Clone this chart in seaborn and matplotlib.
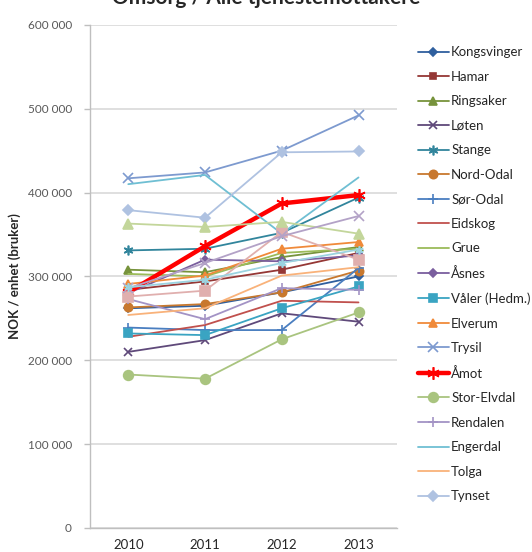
import matplotlib
matplotlib.use("Agg")
import matplotlib.pyplot as plt
import seaborn as sns
import pandas as pd
from matplotlib.ticker import FuncFormatter

years = [2010, 2011, 2012, 2013]

# NOK per recipient, one list per municipality
kongsvinger = [262000, 265000, 281000, 300000]
hamar = [284000, 294000, 308000, 328000]
ringsaker = [308000, 305000, 323000, 335000]
loten = [210000, 224000, 256000, 246000]
stange = [331000, 333000, 352000, 394000]
nord_odal = [263000, 267000, 281000, 307000]
sor_odal = [239000, 236000, 236000, 310000]
eidskog = [228000, 242000, 271000, 269000]
grue = [303000, 300000, 328000, 333000]
asnes = [280000, 320000, 318000, 325000]
valer = [232000, 230000, 262000, 288000]
elverum = [291000, 301000, 333000, 341000]
trysil = [417000, 424000, 450000, 492000]
amot = [281000, 336000, 387000, 397000]
stor_elvdal = [183000, 178000, 225000, 257000]
rendalen = [273000, 249000, 286000, 284000]
engerdal = [410000, 421000, 351000, 418000]
tolga = [254000, 262000, 301000, 311000]
tynset = [379000, 370000, 448000, 449000]
alvdal = [276000, 283000, 353000, 320000]
folldal = [363000, 359000, 365000, 351000]
os_kommune = [286000, 316000, 348000, 372000]
hedmark = [287000, 296000, 316000, 332000]

names = ["Kongsvinger", "Hamar", "Ringsaker", "Løten", "Stange", "Nord-Odal",
         "Sør-Odal", "Eidskog", "Grue", "Åsnes", "Våler (Hedm.)", "Elverum",
         "Trysil", "Åmot", "Stor-Elvdal", "Rendalen", "Engerdal", "Tolga",
         "Tynset", "Alvdal", "Folldal", "Os", "Hedmark"]
series = [kongsvinger, hamar, ringsaker, loten, stange, nord_odal, sor_odal,
          eidskog, grue, asnes, valer, elverum, trysil, amot, stor_elvdal,
          rendalen, engerdal, tolga, tynset, alvdal, folldal, os_kommune, hedmark]
legend_count = 19

star = (6, 2, 0)
styles = {
    "Kongsvinger": ("#2F5F9E", "D", 4.5),
    "Hamar": ("#953735", "s", 5),
    "Ringsaker": ("#77933C", "^", 5.5),
    "Løten": ("#5F497A", "x", 6),
    "Stange": ("#31859C", star, 7),
    "Nord-Odal": ("#C8782E", "o", 6),
    "Sør-Odal": ("#4A7EC0", "+", 7),
    "Eidskog": ("#C0504D", None, 0),
    "Grue": ("#9BBB59", None, 0),
    "Åsnes": ("#7A5E9E", "D", 4.5),
    "Våler (Hedm.)": ("#3AA4C2", "s", 6),
    "Elverum": ("#F08A3A", "^", 6),
    "Trysil": ("#7D9ACF", "x", 7),
    "Åmot": ("#FF0000", star, 9),
    "Stor-Elvdal": ("#A9C47F", "o", 7),
    "Rendalen": ("#A393C5", "+", 7),
    "Engerdal": ("#6FBFD3", None, 0),
    "Tolga": ("#F9B27A", None, 0),
    "Tynset": ("#AFC2E1", "D", 5),
    "Alvdal": ("#E0AFAE", "s", 7),
    "Folldal": ("#C3D69B", "^", 7),
    "Os": ("#B3A2C7", "x", 7),
    "Hedmark": ("#9BD3E0", star, 6),
}

sns.set_theme(style="white")
plt.rcParams["font.family"] = ["Lato", "DejaVu Sans"]

fig = plt.figure(figsize=(5.32, 5.52), dpi=100)
ax = fig.add_axes([0.169, 0.0435, 0.577, 0.9115])

handles = []
for i, (name, vals) in enumerate(zip(names, series)):
    color, marker, msize = styles[name]
    df = pd.DataFrame({"year": years, "value": vals})
    lw = 3.2 if name == "Åmot" else 1.3
    kw = dict(marker=marker, markersize=msize, markeredgecolor=color,
              markerfacecolor=color, markeredgewidth=1.2) if marker else {}
    sns.lineplot(data=df, x="year", y="value", ax=ax, color=color,
                 linewidth=lw, legend=False, zorder=3 + i, **kw)
    line = ax.get_lines()[-1]
    if i < legend_count:
        line.set_label(name)
        handles.append(line)

ax.set_xlim(2009.5, 2013.5)
ax.set_ylim(0, 600000)
ax.set_xticks(years)
ax.set_xticklabels([str(y) for y in years])
ax.set_yticks(range(0, 600001, 100000))
ax.yaxis.set_major_formatter(FuncFormatter(lambda v, p: f"{int(v):,}".replace(",", " ")))
ax.grid(axis="y", color="#D9D9D9", linewidth=1.2)
ax.grid(axis="x", visible=False)
ax.set_axisbelow(True)

for side in ["top", "right"]:
    ax.spines[side].set_visible(False)
for side in ["left", "bottom"]:
    ax.spines[side].set_color("#BFBFBF")
    ax.spines[side].set_linewidth(1.0)

ax.tick_params(axis="y", which="major", left=True, length=4, width=1,
               color="#BFBFBF", labelsize=8.5, labelcolor="#595959", pad=9)
ax.tick_params(axis="x", which="major", bottom=False, labelsize=9.5,
               labelcolor="#262626", pad=2)
ax.set_xlabel("")
ax.set_ylabel("NOK / enhet (bruker)", fontsize=9.5, fontweight="bold",
              color="#262626", labelpad=5)

fig.text(0.5, 1 - 4 / 552, "Omsorg / Alle tjenestemottakere", ha="center",
         va="baseline", fontsize=15, fontweight="bold", color="#262626")

fig.legend(handles=handles, loc="upper left", bbox_to_anchor=(0.775, 0.926),
           frameon=False, fontsize=9.5, labelspacing=0.95, handlelength=2.4,
           handletextpad=0.15, borderaxespad=0)

fig.savefig("out.png", dpi=100)
